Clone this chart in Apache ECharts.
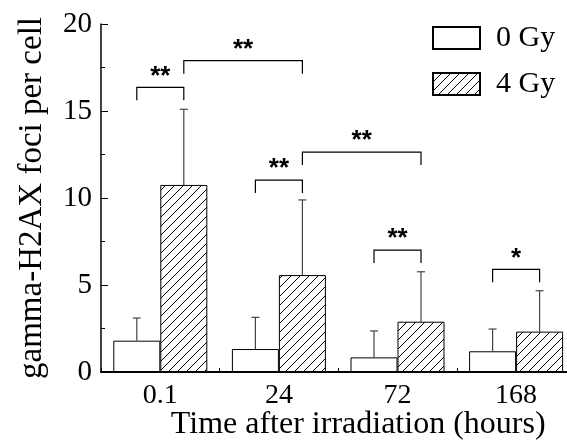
<!DOCTYPE html>
<html><head><meta charset="utf-8">
<script src="https://cdn.jsdelivr.net/npm/echarts@6/dist/echarts.min.js"></script>
<style>html,body{margin:0;padding:0;background:#fff;overflow:hidden}#c{width:567px;height:447px}</style>
</head><body><div id="c"></div>
<script>
const categories = ['0.1', '24', '72', '168'];
const seriesNames = ['0 Gy', '4 Gy'];
const mean0 = [1.8, 1.32, 0.84, 1.19];
const sd0 = [1.3, 1.82, 1.52, 1.28];
const mean4 = [10.75, 5.57, 2.89, 2.32];
const sd4 = [4.35, 4.32, 2.87, 2.35];
const yTicks = [0, 5, 10, 15, 20];
// brackets: [fromCategory, fromSeries, toCategory, toSeries, height]
const brackets = [[0, 0, 0, 1, 16.36], [0, 1, 1, 1, 17.89], [1, 0, 1, 1, 11.03], [1, 1, 2, 1, 12.64], [2, 0, 2, 1, 7.01], [3, 0, 3, 1, 5.9]];
const bracketLabels = ['**', '**', '**', '**', '**', '*'];

const BAR_W = 47;
const SERIF = '"Liberation Serif", "Times New Roman", serif';

function hatch() {
  const c = document.createElement('canvas');
  c.width = 9; c.height = 9;
  const g = c.getContext('2d');
  g.fillStyle = '#fff'; g.fillRect(0, 0, 9, 9);
  g.strokeStyle = '#000'; g.lineWidth = 1;
  g.beginPath();
  g.moveTo(0, 9); g.lineTo(9, 0);
  g.moveTo(-1, 1); g.lineTo(1, -1);
  g.moveTo(8, 10); g.lineTo(10, 8);
  g.stroke();
  return c;
}
const hatchPattern = { image: hatch(), repeat: 'repeat' };

function errItem(offset) {
  return function (params, api) {
    const ci = api.value(0), m = api.value(1), s = api.value(2);
    const b = api.coord([ci, m]);
    const t = api.coord([ci, m + s]);
    const x = b[0] + offset;
    const st = { stroke: '#444', lineWidth: 1.2 };
    return { type: 'group', children: [
      { type: 'line', shape: { x1: x, y1: b[1], x2: x, y2: t[1] }, style: st },
      { type: 'line', shape: { x1: x - 4, y1: t[1], x2: x + 4, y2: t[1] }, style: st }
    ] };
  };
}

const chart = echarts.init(document.getElementById('c'));
chart.setOption({
  animation: false,
  backgroundColor: '#fff',
  grid: { left: 101, top: 24, bottom: 75, right: -8.4, containLabel: false, outerBoundsMode: 'none' },
  legend: {
    data: seriesNames, orient: 'vertical', left: 432, top: 23,
    itemWidth: 47, itemHeight: 22, itemGap: 16, padding: 0,
    icon: 'rect',
    textStyle: { fontFamily: SERIF, fontSize: 30, color: '#000', padding: [0, 0, 0, 11] }
  },
  xAxis: {
    type: 'category', data: categories,
    name: 'Time after irradiation (hours)', nameLocation: 'middle', nameGap: 37, nameMoveOverlap: false,
    nameTextStyle: { fontFamily: SERIF, fontSize: 32, color: '#000', padding: [0, 0, 0, 40] },
    axisLine: { lineStyle: { color: '#000', width: 2 } },
    axisTick: { show: true, inside: true, length: 4, lineStyle: { color: '#000' } },
    axisLabel: { fontFamily: SERIF, fontSize: 28, color: '#000', margin: 10 }
  },
  yAxis: {
    type: 'value', min: 0, max: 20, interval: 5,
    name: 'gamma-H2AX foci per cell', nameLocation: 'middle', nameGap: 52, nameMoveOverlap: false,
    nameTextStyle: { fontFamily: SERIF, fontSize: 33, color: '#000' },
    axisLine: { show: true, lineStyle: { color: '#000', width: 1.5 } },
    axisTick: { show: true, inside: true, length: 7, lineStyle: { color: '#000' } },
    minorTick: { show: true, splitNumber: 2, length: 4, lineStyle: { color: '#000' } },
    splitLine: { show: false },
    axisLabel: { fontFamily: SERIF, fontSize: 29, color: '#000', margin: 9,
      formatter: v => yTicks.includes(v) ? String(v) : '' }
  },
  series: [
    { name: seriesNames[0], type: 'bar', data: mean0, barWidth: BAR_W, barGap: '0%',
      itemStyle: { color: '#fff', borderColor: '#000', borderWidth: 1 } },
    { name: seriesNames[1], type: 'bar', data: mean4, barWidth: BAR_W, barGap: '0%',
      itemStyle: { color: hatchPattern, borderColor: '#000', borderWidth: 1 } },
    { type: 'custom', name: 'err0', z: 5, encode: { x: 0, y: 1 },
      data: mean0.map((m, i) => [i, m, sd0[i]]), renderItem: errItem(-BAR_W / 2) },
    { type: 'custom', name: 'err4', z: 5, encode: { x: 0, y: 1 },
      data: mean4.map((m, i) => [i, m, sd4[i]]), renderItem: errItem(BAR_W / 2) },
    { type: 'custom', name: 'sig', z: 6, encode: { x: 0, y: 4 },
      data: brackets,
      renderItem: function (params, api) {
        const c1 = api.value(0), s1 = api.value(1), c2 = api.value(2), s2 = api.value(3), h = api.value(4);
        const p1 = api.coord([c1, h]), p2 = api.coord([c2, h]);
        const x1 = p1[0] + (s1 ? BAR_W / 2 : -BAR_W / 2);
        const x2 = p2[0] + (s2 ? BAR_W / 2 : -BAR_W / 2);
        const y = p1[1], leg = 13;
        const st = { stroke: '#000', lineWidth: 1.2, fill: null };
        return { type: 'group', children: [
          { type: 'polyline', shape: { points: [[x1, y + leg], [x1, y], [x2, y], [x2, y + leg]] }, style: st },
          { type: 'text', style: { text: bracketLabels[params.dataIndex], x: (x1 + x2) / 2, y: y + 2,
            align: 'center', verticalAlign: 'bottom', fill: '#000',
            font: 'bold 26px "Liberation Sans", Arial, sans-serif' } }
        ] };
      } }
  ]
});
</script></body></html>
